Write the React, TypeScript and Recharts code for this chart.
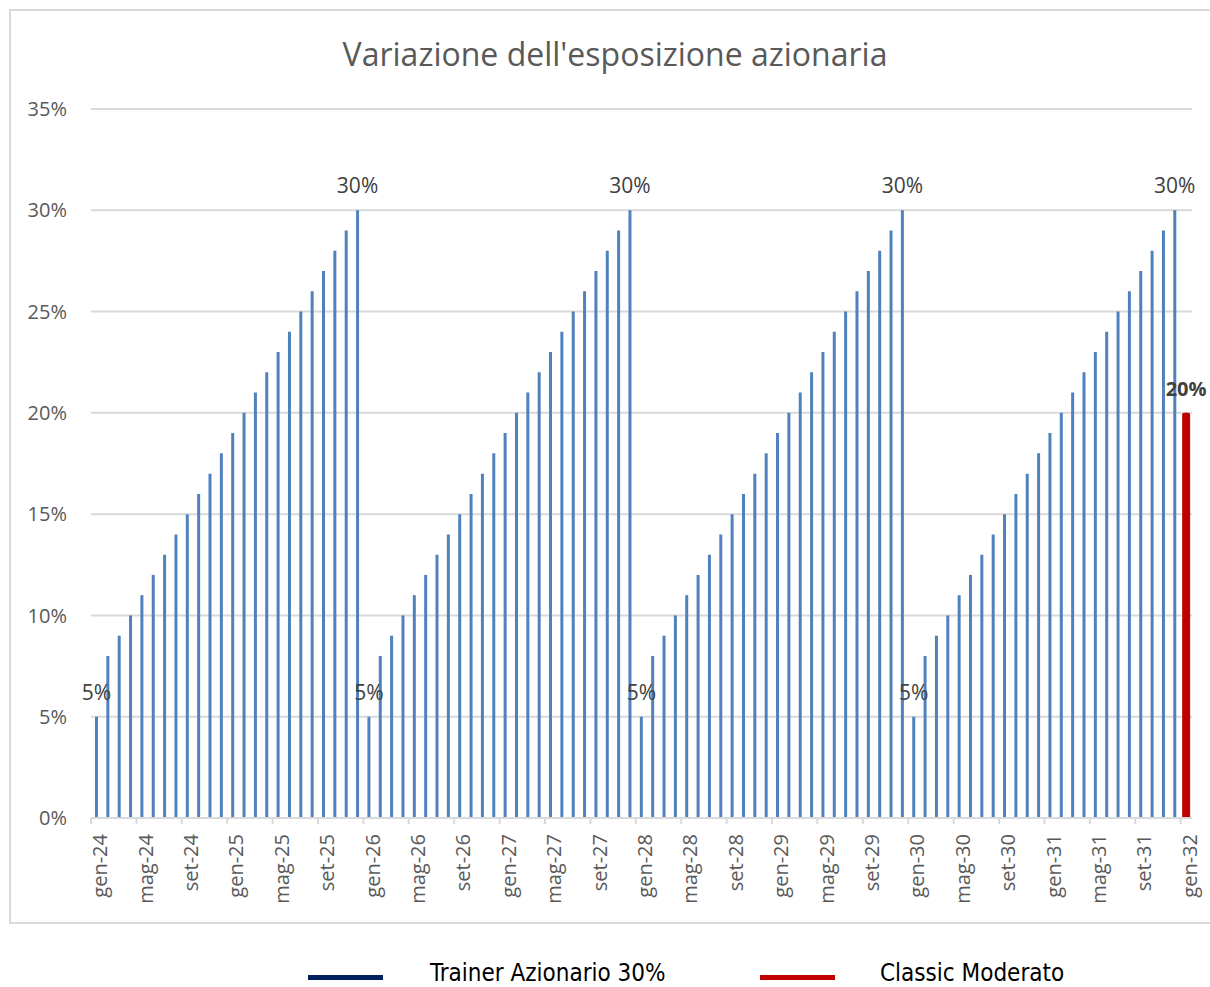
import React from "react";
import { BarChart, Bar, XAxis, YAxis, CartesianGrid, Legend, LabelList } from "recharts";

const monthNames = ["gen", "feb", "mar", "apr", "mag", "giu", "lug", "ago", "set", "ott", "nov", "dic"];
const years = ["24", "25", "26", "27", "28", "29", "30", "31"];
const lastMonth = "gen-32";

// Trainer Azionario 30% — monthly equity exposure (%), gen-24 .. dic-31
const trainerValues = [
    5, 8, 9, 10, 11, 12, 13, 14, 15, 16, 17, 18, 19, 20, 21, 22, 23, 24, 25, 26, 27, 28, 29, 30,
    5, 8, 9, 10, 11, 12, 13, 14, 15, 16, 17, 18, 19, 20, 21, 22, 23, 24, 25, 26, 27, 28, 29, 30,
    5, 8, 9, 10, 11, 12, 13, 14, 15, 16, 17, 18, 19, 20, 21, 22, 23, 24, 25, 26, 27, 28, 29, 30,
    5, 8, 9, 10, 11, 12, 13, 14, 15, 16, 17, 18, 19, 20, 21, 22, 23, 24, 25, 26, 27, 28, 29, 30,
];
// Classic Moderato — single value at gen-32
const classicValue = 20;

const yTicks = [0, 5, 10, 15, 20, 25, 30, 35];
const labelledValues = [5, 30];

const months = [...years.flatMap((y) => monthNames.map((m) => `${m}-${y}`)), lastMonth];
const data = months.map((month, i) => ({
    month,
    trainer: i < trainerValues.length ? trainerValues[i] : null,
    classic: month === lastMonth ? classicValue : null,
}));

const FONT = "'Open Sans', 'DejaVu Sans', sans-serif";
const BORDER = "#D9D9D9";

const MonthTick = (props: any) => {
    const { x, y, payload } = props;
    const half = payload.offset ?? 5.67;
    const tx = x + 3;
    const ty = y + 16;
    return (
        <g>
            <line x1={x - half} x2={x - half} y1={y} y2={y + 6} stroke={BORDER} strokeWidth={2} />
            <text
                x={tx}
                y={ty}
                transform={`rotate(-90, ${tx}, ${ty})`}
                textAnchor="end"
                dominantBaseline="central"
                fill="#595959"
                fontSize={20}
                fontFamily={FONT}
            >
                {payload.value}
            </text>
        </g>
    );
};

const TrainerLabel = (props: any) => {
    const { x, y, width, value } = props;
    if (!labelledValues.includes(value)) return null;
    return (
        <text x={x + width / 2} y={y - 17} textAnchor="middle" fill="#404040" fontSize={21} fontFamily={FONT}>
            {value}%
        </text>
    );
};

const ClassicLabel = (props: any) => {
    const { x, y, width, value } = props;
    if (value == null) return null;
    return (
        <text x={x + width / 2} y={y - 17} textAnchor="middle" fill="#404040" fontSize={20} fontWeight="bold" fontFamily={FONT}>
            {value}%
        </text>
    );
};

const ClassicShape = (props: any) => {
    const { x, y, width, height } = props;
    if (!height || height <= 0) return null;
    const w = 8;
    const cx = x + width / 2;
    const r = 2;
    const left = cx - w / 2;
    const d = `M${left},${y + height + 1} L${left},${y + r} Q${left},${y} ${left + r},${y} L${left + w - r},${y} Q${left + w},${y} ${left + w},${y + r} L${left + w},${y + height + 1} Z`;
    return <path d={d} fill="#C00000" />;
};

const legendItems = [
    { name: "Trainer Azionario 30%", color: "#002060", lineX: 308, textX: 430 },
    { name: "Classic Moderato", color: "#C00000", lineX: 760, textX: 880 },
];

const LegendContent = () => (
    <div style={{ position: "relative", width: 1210, height: 36 }}>
        {legendItems.map((item) => (
            <React.Fragment key={item.name}>
                <div style={{ position: "absolute", left: item.lineX, top: 25, width: 75, height: 5, background: item.color }} />
                <div
                    style={{
                        position: "absolute",
                        left: item.textX,
                        top: 9,
                        fontSize: 24,
                        lineHeight: "28px",
                        color: "#000",
                        fontFamily: "'Liberation Sans Narrow', 'DejaVu Sans Condensed', sans-serif",
                        whiteSpace: "nowrap",
                    }}
                >
                    {item.name}
                </div>
            </React.Fragment>
        ))}
    </div>
);

export default function App() {
    return (
        <div style={{ position: "absolute", left: 0, top: 0, width: 1210, height: 987, overflow: "hidden", background: "#fff" }}>
            <div style={{ position: "absolute", left: 9, top: 9, width: 1201, height: 2, background: BORDER }} />
            <div style={{ position: "absolute", left: 9, top: 9, width: 2, height: 915, background: BORDER }} />
            <div style={{ position: "absolute", left: 9, top: 922, width: 1201, height: 2, background: BORDER }} />
            <div
                style={{
                    position: "absolute",
                    left: 0,
                    width: 1230,
                    top: 32,
                    textAlign: "center",
                    fontSize: 32,
                    lineHeight: "44px",
                    color: "#595959",
                    fontFamily: FONT,
                }}
            >
                Variazione dell'esposizione azionaria
            </div>
            <div style={{ position: "absolute", left: 0, top: 0 }}>
                <BarChart width={1210} height={987} data={data} margin={{ top: 109, right: 18, bottom: 0, left: 0 }}>
                    <CartesianGrid vertical={false} stroke={BORDER} strokeWidth={2} />
                    <XAxis
                        dataKey="month"
                        interval={3}
                        height={169}
                        tickSize={0}
                        tickMargin={0}
                        tickLine={false}
                        axisLine={{ stroke: BORDER, strokeWidth: 2 }}
                        tick={<MonthTick />}
                    />
                    <YAxis
                        domain={[0, 35]}
                        ticks={yTicks}
                        width={91}
                        tickSize={0}
                        tickMargin={24}
                        axisLine={false}
                        tickLine={false}
                        tickFormatter={(v: number) => `${v}%`}
                        tick={{ fill: "#595959", fontSize: 20, fontFamily: FONT }}
                    />
                    <Legend
                        layout="horizontal"
                        verticalAlign="middle"
                        align="center"
                        content={<LegendContent />}
                        wrapperStyle={{ top: 950, left: 0, width: 1210, height: 36 }}
                    />
                    <Bar dataKey="trainer" name="Trainer Azionario 30%" stackId="s" barSize={3} fill="#4F81BD" isAnimationActive={false}>
                        <LabelList dataKey="trainer" content={<TrainerLabel />} />
                    </Bar>
                    <Bar dataKey="classic" name="Classic Moderato" stackId="s" barSize={3} fill="#C00000" shape={<ClassicShape />} isAnimationActive={false}>
                        <LabelList dataKey="classic" content={<ClassicLabel />} />
                    </Bar>
                </BarChart>
            </div>
        </div>
    );
}
